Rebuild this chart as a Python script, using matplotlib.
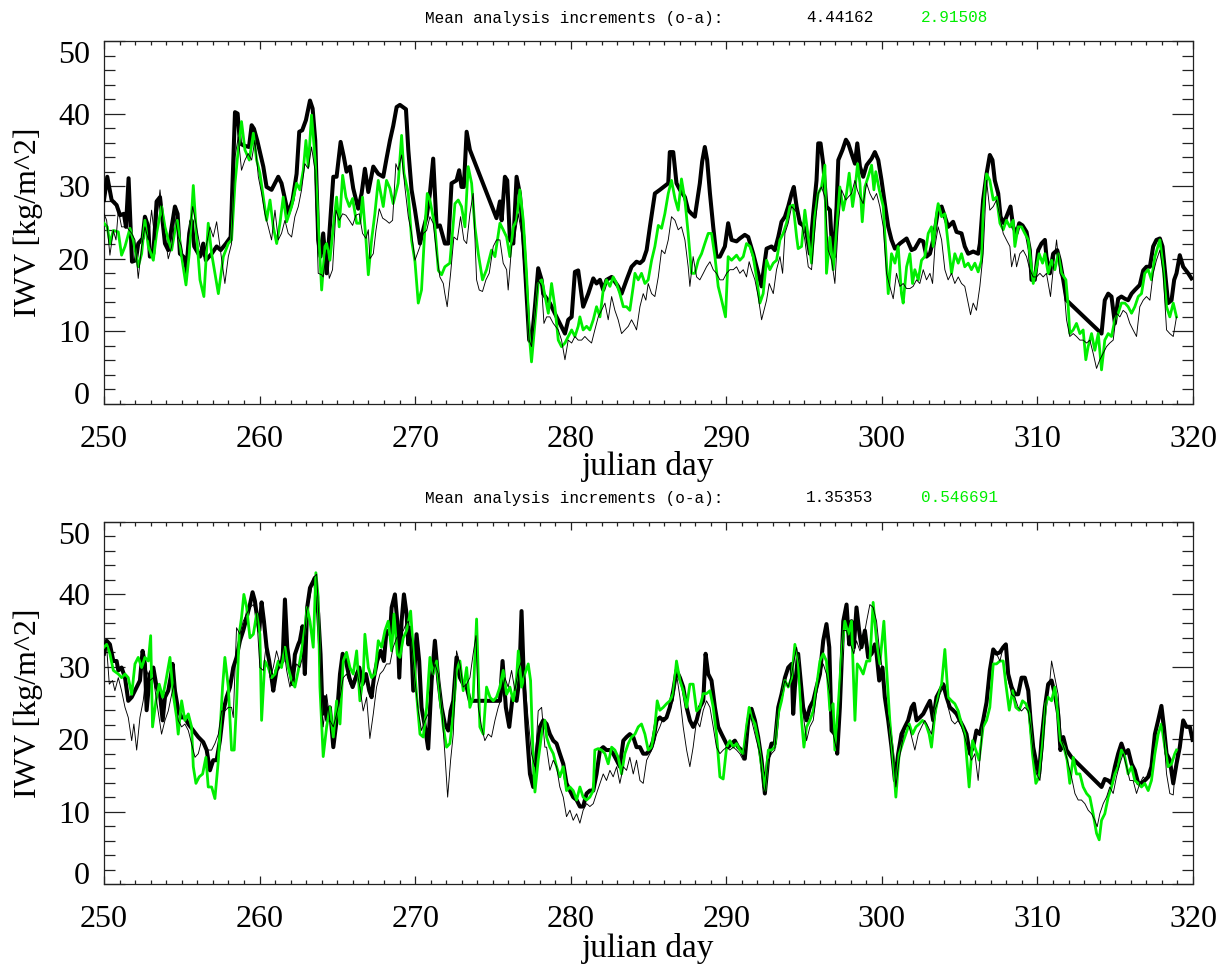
import numpy as np
import matplotlib
matplotlib.use('Agg')
import matplotlib.pyplot as plt
from matplotlib.ticker import MultipleLocator

plt.rcParams['font.family'] = ['Liberation Serif', 'DejaVu Serif']

# ── data: (julian day, IWV kg/m^2) ────────────────────────────────────
# upper panel
top_thick = [
    (250.0, 28.1), (250.21, 31.3), (250.49, 28.1), (250.81, 27.4), (251.03, 26.0), (251.28, 26.2),
    (251.41, 24.4), (251.58, 31.1), (251.8, 19.6), (252.05, 19.8), (252.2, 22.1), (252.48, 22.8),
    (252.63, 25.8), (252.85, 24.4), (252.95, 20.3), (253.17, 20.7), (253.38, 27.9), (253.6, 28.5),
    (253.92, 22.1), (254.13, 21.2), (254.35, 24.4), (254.56, 27.2), (254.73, 26.2), (254.88, 20.7),
    (255.1, 20.3), (255.27, 18.0), (255.48, 23.5), (255.63, 25.3), (255.8, 21.7), (256.17, 20.3),
    (256.38, 22.1), (256.55, 19.8), (256.92, 20.7), (257.24, 21.7), (257.5, 21.2), (257.84, 22.1),
    (258.14, 23.0), (258.42, 40.2), (258.59, 40.0), (258.74, 35.9), (258.99, 35.6), (259.32, 35.4),
    (259.49, 38.4), (259.64, 37.9), (259.85, 36.3), (260.24, 32.7), (260.45, 29.9), (260.77, 29.5),
    (261.2, 31.3), (261.41, 30.4), (261.84, 26.2), (262.12, 28.1), (262.38, 31.7), (262.55, 37.5),
    (262.74, 37.7), (262.98, 39.1), (263.24, 41.8), (263.41, 40.7), (263.58, 36.3), (263.77, 22.6),
    (263.92, 20.3), (264.09, 23.5), (264.2, 20.7), (264.31, 18.0), (264.74, 31.3), (264.95, 31.3),
    (265.21, 36.1), (265.42, 34.0), (265.59, 32.0), (265.81, 32.7), (266.02, 29.7), (266.34, 26.9),
    (266.56, 29.0), (266.77, 32.4), (266.99, 29.2), (267.31, 32.7), (267.63, 31.7), (267.95, 31.3),
    (268.16, 33.8), (268.38, 36.3), (268.59, 38.3), (268.81, 40.9), (269.02, 41.2), (269.41, 40.6),
    (269.56, 35.0), (269.77, 29.5), (269.99, 26.7), (270.31, 22.1), (270.52, 24.0), (270.74, 25.8),
    (270.95, 29.0), (271.16, 33.8), (271.38, 24.4), (271.59, 24.6), (271.91, 22.1), (272.13, 22.1),
    (272.34, 30.4), (272.66, 30.8), (272.83, 32.2), (272.98, 29.9), (273.13, 29.9), (273.31, 37.5),
    (273.52, 35.0), (275.23, 25.6), (275.45, 27.9), (275.56, 25.3), (275.77, 31.3), (275.92, 30.8),
    (276.09, 22.6), (276.31, 22.1), (276.52, 31.3), (276.73, 29.0), (276.95, 23.0), (277.16, 15.2),
    (277.33, 8.8), (277.48, 8.4), (277.7, 13.4), (277.91, 18.7), (278.13, 17.1), (278.23, 15.2),
    (278.66, 13.9), (279.09, 12.0), (279.63, 9.7), (279.84, 11.6), (280.06, 12.0), (280.27, 18.2),
    (280.48, 18.4), (280.8, 13.4), (281.13, 15.2), (281.45, 17.3), (281.66, 16.6), (281.88, 17.1),
    (282.09, 15.7), (282.3, 17.1), (282.63, 17.5), (283.05, 16.2), (283.27, 15.2), (283.59, 17.1),
    (283.91, 18.9), (284.23, 19.6), (284.45, 19.4), (284.66, 19.8), (284.88, 21.2), (285.09, 24.4),
    (285.41, 29.0), (285.73, 29.5), (286.27, 30.4), (286.37, 34.7), (286.59, 34.7), (286.8, 30.4),
    (287.02, 29.5), (287.34, 28.5), (287.55, 26.7), (287.77, 26.2), (287.98, 25.8), (288.3, 30.4),
    (288.45, 33.4), (288.62, 35.4), (288.77, 33.6), (288.95, 29.0), (289.16, 24.4), (289.37, 20.3),
    (289.59, 20.3), (289.91, 21.7), (290.12, 24.9), (290.34, 22.6), (290.66, 22.4), (290.87, 22.8),
    (291.19, 23.3), (291.41, 23.0), (291.73, 20.7), (292.05, 18.0), (292.27, 16.2), (292.37, 18.0),
    (292.59, 21.4), (292.91, 21.7), (293.12, 21.2), (293.34, 23.0), (293.55, 25.1), (293.77, 25.8),
    (293.98, 27.2), (294.2, 29.0), (294.34, 29.9), (294.52, 27.2), (294.73, 24.9), (294.94, 24.6),
    (295.16, 23.5), (295.37, 20.7), (295.59, 26.2), (295.8, 30.8), (295.91, 35.9), (296.06, 35.9),
    (296.23, 33.1), (296.44, 27.2), (296.66, 26.7), (296.77, 22.6), (296.92, 20.3), (297.09, 27.2),
    (297.2, 33.6), (297.47, 35.0), (297.69, 36.4), (297.84, 35.9), (298.05, 34.5), (298.27, 33.1),
    (298.42, 35.9), (298.59, 32.7), (298.8, 31.3), (299.02, 32.9), (299.34, 33.8), (299.55, 34.7),
    (299.77, 33.6), (299.98, 30.8), (300.19, 27.6), (300.41, 24.4), (300.62, 22.6), (300.84, 21.4),
    (301.16, 22.1), (301.59, 22.8), (301.91, 21.2), (302.12, 21.4), (302.44, 22.6), (302.66, 22.4),
    (302.87, 20.3), (303.09, 20.7), (303.3, 22.6), (303.62, 26.7), (303.84, 27.2), (304.05, 25.8),
    (304.26, 24.4), (304.58, 25.1), (304.8, 23.7), (305.12, 23.5), (305.33, 21.7), (305.55, 20.7),
    (305.87, 21.0), (306.19, 20.7), (306.3, 22.1), (306.51, 28.1), (306.73, 31.7), (306.94, 34.3),
    (307.11, 33.6), (307.26, 30.8), (307.48, 29.0), (307.63, 25.8), (307.84, 24.9), (308.01, 25.8),
    (308.27, 27.2), (308.44, 24.4), (308.66, 23.5), (308.83, 24.9), (309.04, 24.6), (309.3, 23.7),
    (309.51, 21.2), (309.62, 17.1), (309.83, 17.1), (310.05, 21.2), (310.26, 22.1), (310.48, 22.6),
    (310.58, 20.3), (310.8, 18.0), (311.01, 20.7), (311.27, 21.2), (311.44, 19.8), (311.66, 17.1),
    (311.87, 14.3), (314.12, 9.7), (314.33, 14.3), (314.55, 15.2), (314.76, 14.8), (314.98, 11.1),
    (315.19, 14.5), (315.4, 14.8), (315.62, 14.5), (315.83, 14.3), (316.05, 15.2), (316.26, 15.7),
    (316.58, 16.4), (316.8, 18.4), (317.01, 18.9), (317.23, 18.9), (317.44, 21.7), (317.65, 22.6),
    (317.87, 22.8), (318.04, 21.7), (318.25, 17.1), (318.4, 13.9), (318.62, 14.3), (318.79, 17.1),
    (318.94, 18.0), (319.15, 20.5), (319.37, 18.9), (319.69, 18.0), (319.9, 17.3),
]

top_thin = [
    (250.0, 26.2), (250.17, 25.3), (250.38, 20.5), (250.6, 23.9), (250.77, 22.6), (250.92, 26.7),
    (251.13, 24.4), (251.45, 24.4), (251.78, 23.5), (251.99, 22.6), (252.2, 17.3), (252.42, 21.7),
    (252.63, 24.4), (252.85, 22.6), (253.06, 26.7), (253.27, 22.6), (253.6, 29.5), (253.81, 24.9),
    (254.13, 20.0), (254.35, 21.7), (254.56, 25.8), (254.77, 23.0), (254.99, 21.7), (255.2, 18.9),
    (255.42, 22.6), (255.7, 27.2), (255.95, 24.4), (256.17, 21.7), (256.38, 20.3), (256.6, 22.1),
    (256.81, 24.4), (257.02, 23.0), (257.24, 25.1), (257.45, 21.7), (257.77, 16.6), (257.99, 20.3),
    (258.2, 22.1), (258.42, 34.0), (258.63, 36.8), (258.84, 32.2), (259.06, 33.6), (259.27, 34.5),
    (259.49, 33.6), (259.7, 36.3), (259.92, 31.3), (260.13, 29.0), (260.34, 26.2), (260.56, 24.4),
    (260.77, 22.6), (260.99, 26.7), (261.2, 22.6), (261.41, 23.5), (261.63, 25.3), (261.84, 23.5),
    (262.06, 23.0), (262.27, 25.8), (262.49, 27.2), (262.7, 29.5), (262.91, 33.1), (263.13, 32.4),
    (263.34, 35.4), (263.56, 32.2), (263.77, 18.0), (263.99, 17.8), (264.09, 17.5), (264.31, 21.2),
    (264.48, 17.3), (264.69, 18.5), (264.91, 26.7), (265.12, 25.3), (265.34, 26.2), (265.55, 26.0),
    (265.77, 25.3), (265.98, 24.6), (266.19, 26.0), (266.41, 26.2), (266.62, 23.5), (266.84, 22.8),
    (266.99, 24.0), (267.09, 20.0), (267.31, 20.7), (267.48, 23.9), (267.69, 26.9), (267.91, 25.6),
    (268.12, 25.3), (268.34, 24.9), (268.55, 25.3), (268.76, 33.1), (268.91, 32.2), (269.13, 34.3),
    (269.34, 29.9), (269.56, 25.8), (269.77, 23.5), (269.99, 19.8), (270.14, 20.7), (270.31, 21.7),
    (270.52, 23.5), (270.74, 23.9), (270.95, 25.8), (271.16, 24.9), (271.38, 20.7), (271.59, 17.5),
    (271.81, 16.6), (271.91, 15.2), (272.06, 13.4), (272.28, 18.0), (272.49, 23.0), (272.71, 22.6),
    (272.92, 25.8), (273.13, 22.6), (273.31, 22.1), (273.52, 26.2), (273.73, 29.0), (273.95, 17.1),
    (274.12, 15.7), (274.33, 15.5), (274.55, 17.1), (274.76, 18.0), (275.02, 21.7), (275.23, 22.6),
    (275.45, 22.6), (275.66, 19.4), (275.88, 18.5), (275.98, 15.7), (276.2, 21.7), (276.41, 23.0),
    (276.63, 26.2), (276.84, 23.5), (277.05, 17.1), (277.33, 8.8), (277.48, 7.9), (277.7, 12.0),
    (277.91, 17.1), (278.13, 16.2), (278.28, 11.1), (278.45, 12.0), (278.66, 12.0), (278.88, 11.1),
    (279.2, 10.2), (279.41, 8.8), (279.63, 6.1), (279.84, 8.8), (280.06, 8.4), (280.27, 9.3),
    (280.48, 8.8), (280.7, 8.8), (280.91, 9.3), (281.13, 8.8), (281.34, 8.4), (281.55, 10.2),
    (281.77, 12.0), (281.98, 12.9), (282.2, 13.9), (282.41, 11.6), (282.63, 14.8), (282.84, 12.9),
    (283.05, 11.6), (283.27, 9.7), (283.48, 10.2), (283.7, 10.7), (283.91, 11.6), (284.13, 10.7),
    (284.23, 10.2), (284.45, 13.4), (284.66, 15.2), (284.83, 14.3), (284.98, 16.6), (285.2, 15.2),
    (285.41, 14.8), (285.63, 17.5), (285.84, 21.2), (286.05, 20.7), (286.27, 22.6), (286.48, 25.8),
    (286.7, 25.3), (286.91, 24.0), (287.12, 24.4), (287.34, 22.6), (287.55, 18.9), (287.66, 16.2),
    (287.87, 20.3), (288.09, 17.5), (288.3, 17.1), (288.52, 18.0), (288.73, 18.9), (288.95, 19.6),
    (289.16, 18.5), (289.37, 18.0), (289.59, 17.1), (289.8, 17.1), (290.02, 18.0), (290.23, 18.5),
    (290.45, 18.5), (290.66, 18.9), (290.87, 18.0), (291.09, 18.5), (291.3, 17.5), (291.47, 19.6),
    (291.62, 18.5), (291.84, 17.1), (292.05, 14.8), (292.27, 11.6), (292.59, 14.3), (292.76, 16.6),
    (293.02, 15.2), (293.23, 18.5), (293.45, 20.3), (293.62, 18.0), (293.77, 23.5), (293.98, 24.9),
    (294.2, 27.2), (294.41, 26.7), (294.62, 26.2), (294.84, 24.9), (295.05, 22.6), (295.27, 18.9),
    (295.48, 18.5), (295.69, 23.9), (295.91, 29.0), (296.12, 29.9), (296.34, 28.5), (296.55, 21.2),
    (296.77, 19.8), (296.98, 16.6), (297.19, 24.4), (297.41, 29.5), (297.69, 28.1), (297.84, 28.5),
    (298.05, 29.0), (298.27, 30.8), (298.42, 29.5), (298.59, 28.5), (298.8, 27.6), (299.02, 30.4),
    (299.23, 29.0), (299.44, 28.1), (299.66, 29.0), (299.87, 27.2), (300.09, 24.4), (300.3, 18.0),
    (300.51, 16.2), (300.73, 14.5), (300.94, 18.0), (301.16, 16.2), (301.37, 16.6), (301.59, 15.9),
    (301.8, 15.9), (302.01, 16.2), (302.23, 17.1), (302.44, 16.6), (302.66, 18.5), (302.87, 17.1),
    (303.09, 18.0), (303.26, 16.6), (303.41, 21.7), (303.62, 24.4), (303.84, 22.6), (304.05, 18.5),
    (304.26, 17.1), (304.48, 18.0), (304.69, 16.6), (304.91, 17.5), (305.12, 16.6), (305.33, 16.2),
    (305.55, 13.9), (305.7, 12.3), (305.87, 13.9), (306.08, 12.9), (306.3, 16.2), (306.51, 20.7),
    (306.73, 30.8), (306.94, 26.7), (307.16, 27.2), (307.37, 28.1), (307.59, 25.8), (307.8, 23.5),
    (308.01, 22.6), (308.23, 21.7), (308.34, 18.9), (308.55, 20.7), (308.66, 18.9), (308.87, 20.7),
    (309.08, 21.2), (309.3, 20.3), (309.51, 18.5), (309.73, 17.5), (309.94, 17.5), (310.16, 18.0),
    (310.37, 17.5), (310.58, 18.0), (310.84, 14.8), (311.01, 18.5), (311.23, 22.6), (311.44, 18.0),
    (311.66, 17.1), (311.87, 11.6), (312.08, 9.3), (312.3, 9.7), (312.51, 9.3), (312.73, 8.8),
    (312.94, 8.8), (313.16, 8.4), (313.37, 8.8), (313.58, 7.0), (313.8, 4.9), (314.01, 6.1),
    (314.23, 7.0), (314.44, 7.9), (314.65, 8.4), (314.87, 8.8), (315.08, 12.5), (315.3, 12.0),
    (315.51, 12.9), (315.73, 12.5), (315.94, 11.1), (316.15, 10.2), (316.37, 9.3), (316.58, 13.4),
    (316.8, 14.3), (317.01, 14.8), (317.23, 14.3), (317.44, 18.0), (317.65, 19.8), (317.87, 21.2),
    (318.08, 18.0), (318.3, 10.2), (318.51, 9.7), (318.73, 9.3), (318.94, 12.0),
]

top_green = [
    (250.0, 24.9), (250.21, 24.4), (250.38, 22.1), (250.6, 23.9), (250.92, 23.7), (251.13, 20.5),
    (251.35, 21.7), (251.67, 24.2), (251.88, 22.6), (252.2, 18.9), (252.42, 20.7), (252.63, 25.3),
    (252.85, 21.7), (253.17, 19.8), (253.38, 23.5), (253.7, 27.2), (253.92, 24.4), (254.13, 22.6),
    (254.35, 21.2), (254.56, 23.9), (254.71, 25.3), (254.99, 20.3), (255.27, 16.4), (255.48, 20.7),
    (255.74, 30.1), (255.91, 24.4), (256.17, 17.1), (256.42, 14.8), (256.7, 24.9), (256.92, 20.7),
    (257.13, 18.0), (257.35, 15.2), (257.67, 20.3), (257.99, 22.1), (258.2, 22.6), (258.42, 30.4),
    (258.63, 35.0), (258.84, 38.9), (259.06, 35.0), (259.34, 33.6), (259.6, 37.3), (259.81, 33.6),
    (260.02, 31.8), (260.24, 28.5), (260.45, 25.3), (260.67, 28.1), (260.88, 24.4), (261.1, 22.1),
    (261.31, 24.9), (261.52, 28.5), (261.74, 25.1), (262.06, 27.2), (262.38, 30.4), (262.59, 29.5),
    (262.81, 32.2), (262.98, 36.3), (263.13, 32.7), (263.34, 39.8), (263.56, 34.0), (263.77, 24.9),
    (263.99, 15.7), (264.2, 21.7), (264.31, 22.1), (264.52, 19.8), (264.74, 24.4), (264.95, 28.5),
    (265.12, 24.4), (265.34, 31.5), (265.55, 28.5), (265.77, 27.2), (265.98, 28.3), (266.24, 24.9),
    (266.45, 24.9), (266.62, 28.5), (266.84, 22.6), (266.99, 17.8), (267.2, 22.6), (267.41, 26.2),
    (267.63, 30.8), (267.95, 27.2), (268.16, 30.8), (268.38, 29.7), (268.59, 27.6), (268.91, 30.4),
    (269.13, 37.0), (269.28, 31.8), (269.56, 29.0), (269.77, 22.6), (269.99, 19.6), (270.2, 13.9),
    (270.41, 15.7), (270.63, 24.4), (270.78, 29.0), (270.95, 28.1), (271.27, 24.4), (271.49, 18.4),
    (271.7, 17.8), (271.91, 18.9), (272.23, 19.4), (272.56, 27.6), (272.77, 28.1), (272.98, 27.2),
    (273.2, 24.4), (273.41, 32.7), (273.63, 30.4), (273.84, 24.4), (274.06, 20.7), (274.33, 17.1),
    (274.59, 18.5), (274.91, 21.2), (275.13, 20.3), (275.45, 24.9), (275.66, 24.0), (275.88, 23.0),
    (276.09, 20.3), (276.31, 24.4), (276.52, 25.3), (276.73, 29.5), (276.95, 25.3), (277.16, 18.0),
    (277.33, 9.7), (277.48, 5.8), (277.7, 11.1), (277.91, 16.6), (278.13, 17.1), (278.23, 16.2),
    (278.56, 12.5), (278.77, 16.6), (278.98, 13.4), (279.2, 8.8), (279.41, 7.9), (279.63, 8.4),
    (279.84, 9.3), (280.06, 10.2), (280.27, 9.3), (280.48, 10.7), (280.59, 12.0), (280.8, 10.2),
    (281.02, 10.7), (281.23, 10.2), (281.45, 11.6), (281.66, 13.4), (281.88, 12.0), (282.09, 15.7),
    (282.3, 17.1), (282.52, 16.2), (282.73, 17.5), (282.95, 16.6), (283.16, 15.2), (283.38, 13.4),
    (283.59, 13.4), (283.8, 12.9), (284.02, 16.2), (284.13, 18.0), (284.34, 17.1), (284.55, 18.0),
    (284.77, 16.6), (284.98, 17.1), (285.2, 19.8), (285.41, 21.7), (285.63, 24.6), (285.84, 24.2),
    (286.05, 26.2), (286.27, 29.0), (286.48, 30.8), (286.7, 28.3), (286.91, 26.7), (287.12, 31.0),
    (287.34, 28.1), (287.55, 23.5), (287.77, 18.0), (287.98, 18.0), (288.2, 19.8), (288.41, 20.7),
    (288.62, 22.1), (288.84, 23.5), (289.05, 23.5), (289.27, 20.3), (289.48, 16.2), (289.7, 14.3),
    (289.95, 12.0), (290.12, 20.3), (290.34, 19.8), (290.66, 20.5), (290.87, 19.8), (291.09, 20.3),
    (291.3, 22.1), (291.52, 21.7), (291.73, 20.3), (291.94, 17.5), (292.16, 13.9), (292.37, 15.2),
    (292.59, 19.8), (292.8, 18.5), (293.02, 19.4), (293.23, 19.8), (293.45, 22.6), (293.66, 23.5),
    (293.87, 24.9), (294.09, 27.2), (294.3, 27.4), (294.52, 23.0), (294.62, 21.4), (294.84, 21.7),
    (295.05, 26.7), (295.27, 23.0), (295.48, 19.4), (295.69, 25.8), (295.91, 29.0), (296.12, 29.9),
    (296.34, 32.9), (296.44, 18.0), (296.66, 23.0), (296.87, 18.5), (297.04, 22.6), (297.3, 29.9),
    (297.52, 26.7), (297.73, 29.0), (297.9, 31.8), (298.12, 27.2), (298.27, 29.5), (298.44, 33.1),
    (298.59, 30.4), (298.74, 25.1), (298.91, 29.9), (299.12, 31.3), (299.34, 32.9), (299.49, 29.5),
    (299.61, 32.0), (299.83, 29.5), (300.09, 27.2), (300.26, 20.7), (300.41, 15.2), (300.62, 20.7),
    (300.84, 19.4), (301.05, 21.7), (301.26, 15.2), (301.37, 13.9), (301.59, 18.9), (301.8, 20.7),
    (301.97, 16.6), (302.12, 18.5), (302.34, 17.1), (302.55, 19.8), (302.76, 20.3), (302.98, 23.5),
    (303.19, 24.4), (303.3, 21.7), (303.51, 26.2), (303.62, 27.6), (303.84, 25.8), (304.05, 26.2),
    (304.26, 22.1), (304.48, 18.0), (304.69, 20.7), (304.91, 19.4), (305.12, 20.7), (305.33, 18.9),
    (305.55, 19.4), (305.76, 18.5), (305.98, 19.4), (306.19, 18.2), (306.41, 19.8), (306.51, 26.2),
    (306.73, 31.7), (306.94, 30.8), (307.16, 28.1), (307.37, 28.5), (307.59, 24.9), (307.8, 24.0),
    (308.01, 25.3), (308.23, 24.4), (308.44, 25.3), (308.55, 21.7), (308.76, 24.4), (308.98, 24.4),
    (309.19, 23.5), (309.41, 22.6), (309.73, 16.6), (309.94, 18.9), (310.11, 20.7), (310.33, 19.4),
    (310.48, 20.7), (310.69, 18.0), (310.91, 19.8), (311.12, 18.5), (311.33, 20.7), (311.55, 18.0),
    (311.83, 17.1), (311.98, 13.4), (312.08, 9.7), (312.3, 10.2), (312.51, 11.1), (312.73, 9.7),
    (312.94, 10.2), (313.11, 6.1), (313.26, 7.9), (313.48, 9.7), (313.69, 7.4), (313.91, 9.7),
    (314.12, 4.7), (314.33, 8.8), (314.55, 9.7), (314.76, 9.3), (314.98, 11.6), (315.19, 12.5),
    (315.4, 13.9), (315.62, 13.9), (315.83, 13.4), (316.05, 12.5), (316.26, 13.4), (316.48, 14.8),
    (316.69, 15.2), (316.9, 18.0), (317.12, 18.5), (317.33, 17.1), (317.55, 20.3), (317.87, 22.6),
    (318.08, 18.9), (318.3, 13.4), (318.51, 12.0), (318.73, 13.9), (318.94, 12.0),
]

# lower panel
bot_thick = [
    (250.0, 31.8), (250.17, 33.6), (250.38, 33.1), (250.6, 30.8), (250.81, 30.8), (250.92, 29.5),
    (251.13, 29.9), (251.35, 28.5), (251.56, 25.3), (251.78, 25.8), (252.1, 27.2), (252.31, 28.1),
    (252.48, 32.2), (252.63, 30.4), (252.74, 24.0), (252.95, 29.0), (253.17, 29.9), (253.38, 27.2),
    (253.6, 26.2), (253.77, 22.6), (253.92, 25.8), (254.13, 26.7), (254.28, 28.5), (254.41, 30.4),
    (254.56, 26.7), (254.77, 24.0), (254.99, 23.0), (255.2, 23.0), (255.42, 22.1), (255.74, 21.2),
    (256.06, 20.3), (256.38, 19.6), (256.6, 18.5), (256.81, 15.7), (257.02, 17.1), (257.24, 17.1),
    (257.45, 19.8), (257.67, 23.9), (257.88, 25.8), (258.1, 27.2), (258.31, 29.9), (258.52, 31.3),
    (258.74, 33.6), (258.95, 35.0), (259.17, 36.8), (259.38, 38.6), (259.55, 40.3), (259.7, 39.1),
    (259.81, 37.3), (259.98, 35.0), (260.13, 38.9), (260.28, 36.3), (260.45, 32.7), (260.62, 30.8),
    (260.77, 28.5), (260.88, 26.7), (261.09, 29.5), (261.31, 30.4), (261.48, 30.8), (261.63, 39.3),
    (261.78, 32.7), (261.95, 29.9), (262.12, 27.6), (262.27, 31.7), (262.49, 33.1), (262.59, 33.6),
    (262.76, 35.6), (262.91, 29.0), (263.06, 38.2), (263.24, 40.9), (263.45, 41.8), (263.56, 42.3),
    (263.77, 37.3), (263.92, 31.7), (264.05, 23.5), (264.2, 25.8), (264.35, 22.6), (264.52, 24.4),
    (264.74, 18.9), (264.95, 22.6), (265.17, 29.0), (265.34, 31.8), (265.55, 30.8), (265.77, 28.5),
    (265.98, 27.2), (266.19, 28.5), (266.41, 29.9), (266.62, 27.6), (266.84, 29.0), (267.05, 26.7),
    (267.2, 25.8), (267.35, 28.5), (267.56, 30.8), (267.78, 32.2), (267.99, 30.8), (268.16, 35.0),
    (268.38, 34.5), (268.49, 38.2), (268.7, 40.0), (268.85, 36.3), (268.98, 28.5), (269.13, 36.3),
    (269.28, 40.0), (269.45, 37.3), (269.56, 33.1), (269.71, 35.4), (269.88, 26.7), (270.09, 34.5),
    (270.26, 30.8), (270.41, 24.4), (270.63, 21.7), (270.84, 18.7), (271.06, 28.1), (271.27, 33.6),
    (271.49, 28.1), (271.7, 24.4), (271.91, 22.1), (272.13, 21.2), (272.28, 23.9), (272.45, 25.3),
    (272.66, 31.3), (272.88, 28.5), (273.09, 27.6), (273.31, 27.2), (273.52, 25.3), (275.45, 25.3),
    (275.62, 30.8), (275.83, 24.4), (276.05, 21.7), (276.26, 25.8), (276.52, 25.3), (276.69, 28.1),
    (276.84, 37.7), (276.99, 28.1), (277.16, 21.7), (277.38, 15.2), (277.59, 13.4), (277.8, 18.0),
    (278.02, 21.7), (278.23, 22.6), (278.45, 22.1), (278.66, 20.7), (278.88, 19.8), (279.09, 19.4),
    (279.3, 18.0), (279.52, 16.6), (279.73, 13.9), (279.95, 12.9), (280.16, 12.0), (280.38, 11.6),
    (280.59, 10.7), (280.8, 10.7), (281.02, 12.5), (281.23, 12.9), (281.45, 12.9), (281.66, 15.2),
    (281.88, 18.5), (282.09, 18.9), (282.3, 18.5), (282.52, 18.5), (282.73, 18.0), (282.95, 17.1),
    (283.16, 16.2), (283.38, 19.8), (283.59, 20.3), (283.8, 20.7), (284.02, 20.3), (284.23, 18.9),
    (284.45, 18.9), (284.66, 18.0), (284.88, 18.0), (285.09, 18.5), (285.3, 19.8), (285.52, 22.6),
    (285.73, 23.0), (285.95, 22.6), (286.16, 23.0), (286.37, 24.4), (286.59, 26.7), (286.8, 29.5),
    (287.02, 28.5), (287.23, 27.2), (287.45, 24.4), (287.66, 22.6), (287.87, 21.7), (288.09, 22.6),
    (288.3, 24.4), (288.52, 25.3), (288.67, 31.8), (288.84, 29.0), (289.05, 28.1), (289.27, 24.4),
    (289.48, 21.7), (289.7, 20.7), (289.91, 19.8), (290.12, 18.9), (290.34, 19.4), (290.55, 19.8),
    (290.77, 18.9), (290.98, 18.5), (291.19, 17.3), (291.41, 22.6), (291.62, 24.2), (291.84, 22.6),
    (292.05, 20.3), (292.27, 17.1), (292.48, 12.5), (292.7, 17.5), (292.91, 19.4), (293.12, 19.4),
    (293.34, 24.4), (293.55, 26.2), (293.77, 28.5), (293.98, 29.9), (294.2, 30.4), (294.3, 23.5),
    (294.41, 27.2), (294.62, 31.8), (294.84, 26.7), (294.94, 24.4), (295.16, 22.6), (295.37, 24.4),
    (295.59, 25.3), (295.8, 27.2), (296.02, 29.0), (296.23, 33.6), (296.44, 35.9), (296.62, 32.7),
    (296.77, 21.2), (296.98, 20.7), (297.13, 18.0), (297.3, 24.4), (297.52, 36.3), (297.73, 38.6),
    (297.9, 33.1), (298.05, 36.3), (298.2, 32.7), (298.37, 38.2), (298.54, 35.0), (298.69, 32.7),
    (298.91, 35.0), (299.12, 31.3), (299.34, 31.8), (299.55, 33.1), (299.66, 31.8), (299.83, 28.1),
    (300.04, 29.9), (300.19, 25.8), (300.41, 22.6), (300.62, 18.9), (300.84, 14.3), (301.05, 18.0),
    (301.26, 20.7), (301.48, 21.7), (301.69, 22.6), (301.91, 24.4), (302.06, 24.9), (302.23, 22.6),
    (302.44, 23.0), (302.66, 23.5), (302.87, 24.4), (303.09, 25.3), (303.3, 22.6), (303.51, 25.8),
    (303.73, 26.7), (303.94, 27.6), (304.16, 25.8), (304.37, 24.4), (304.58, 24.0), (304.8, 23.5),
    (305.01, 22.6), (305.23, 21.7), (305.44, 20.7), (305.66, 18.0), (305.87, 18.9), (306.08, 21.2),
    (306.3, 20.7), (306.51, 22.6), (306.73, 25.1), (306.94, 29.5), (307.16, 32.4), (307.37, 31.8),
    (307.59, 32.0), (307.8, 32.7), (307.97, 33.1), (308.12, 29.0), (308.34, 27.2), (308.55, 26.2),
    (308.76, 26.2), (308.98, 28.5), (309.19, 28.5), (309.41, 26.7), (309.56, 22.6), (309.73, 18.9),
    (309.94, 16.6), (310.11, 15.2), (310.26, 19.8), (310.48, 24.4), (310.69, 27.6), (310.91, 28.1),
    (311.12, 26.2), (311.33, 23.5), (311.48, 18.5), (311.66, 20.3), (311.87, 18.5), (312.19, 17.5),
    (314.12, 13.4), (314.33, 14.5), (314.55, 14.3), (314.76, 13.9), (314.98, 16.2), (315.19, 18.0),
    (315.4, 19.4), (315.62, 18.0), (315.83, 18.5), (316.05, 16.6), (316.26, 15.7), (316.48, 13.9),
    (316.69, 13.9), (316.9, 14.3), (317.12, 14.8), (317.33, 16.2), (317.55, 20.7), (317.76, 22.6),
    (317.97, 24.6), (318.13, 21.7), (318.3, 18.0), (318.51, 17.1), (318.73, 13.9), (318.94, 16.6),
    (319.15, 18.9), (319.37, 22.6), (319.58, 21.7), (319.8, 21.7), (319.97, 19.9),
]

bot_thin = [
    (250.0, 32.2), (250.17, 32.7), (250.34, 27.6), (250.55, 28.1), (250.7, 26.7), (250.92, 28.5),
    (251.13, 26.7), (251.35, 24.4), (251.56, 23.0), (251.78, 19.8), (251.92, 22.1), (252.1, 18.5),
    (252.31, 23.0), (252.52, 25.3), (252.74, 29.5), (252.95, 28.1), (253.17, 28.5), (253.38, 25.3),
    (253.7, 20.7), (253.92, 22.6), (254.13, 23.9), (254.35, 26.2), (254.56, 28.1), (254.77, 22.6),
    (254.99, 21.7), (255.2, 22.1), (255.42, 21.2), (255.63, 19.4), (255.85, 17.5), (256.06, 18.0),
    (256.27, 19.8), (256.49, 18.9), (256.7, 18.5), (256.92, 18.5), (257.13, 19.4), (257.35, 20.7),
    (257.56, 23.9), (257.77, 23.9), (257.99, 24.4), (258.2, 24.4), (258.31, 23.0), (258.52, 35.4),
    (258.74, 34.5), (258.95, 36.3), (259.17, 37.3), (259.38, 38.2), (259.6, 38.6), (259.81, 37.3),
    (260.02, 29.9), (260.24, 29.5), (260.45, 33.6), (260.67, 28.5), (260.88, 29.9), (261.09, 32.2),
    (261.31, 30.4), (261.52, 33.1), (261.74, 29.5), (261.95, 27.2), (262.17, 28.5), (262.38, 30.4),
    (262.59, 29.9), (262.81, 31.7), (263.02, 37.7), (263.24, 39.6), (263.45, 42.3), (263.67, 42.8),
    (263.81, 36.8), (263.99, 24.4), (264.09, 21.7), (264.31, 26.2), (264.52, 22.6), (264.74, 21.7),
    (264.95, 23.5), (265.17, 25.8), (265.38, 28.5), (265.59, 29.0), (265.81, 27.6), (266.02, 28.1),
    (266.24, 29.5), (266.45, 27.2), (266.66, 23.9), (266.88, 25.8), (267.09, 20.1), (267.31, 23.5),
    (267.52, 27.2), (267.74, 29.0), (267.95, 29.5), (268.16, 30.4), (268.38, 30.4), (268.59, 32.7),
    (268.81, 34.0), (269.02, 34.5), (269.24, 35.0), (269.41, 35.9), (269.56, 36.3), (269.77, 33.6),
    (269.99, 28.1), (270.2, 23.9), (270.41, 21.2), (270.63, 22.6), (270.84, 23.5), (271.06, 28.1),
    (271.27, 30.4), (271.49, 29.0), (271.7, 24.4), (271.91, 18.0), (272.09, 12.0), (272.28, 17.1),
    (272.45, 20.7), (272.66, 32.2), (272.88, 30.4), (273.09, 27.2), (273.31, 27.6), (273.52, 28.5),
    (273.73, 31.8), (273.91, 34.3), (274.06, 24.4), (274.27, 21.7), (274.48, 19.8), (274.7, 20.7),
    (274.91, 20.3), (275.13, 22.6), (275.34, 24.4), (275.56, 25.8), (275.77, 28.5), (275.98, 27.2),
    (276.2, 29.5), (276.41, 26.7), (276.63, 29.5), (276.84, 30.8), (277.05, 28.1), (277.27, 22.6),
    (277.48, 18.0), (277.7, 16.2), (277.91, 23.9), (278.13, 24.4), (278.34, 18.9), (278.45, 18.9),
    (278.66, 15.7), (278.88, 17.1), (279.09, 16.2), (279.3, 13.4), (279.52, 12.0), (279.73, 9.3),
    (279.95, 10.2), (280.16, 8.8), (280.38, 9.7), (280.59, 8.4), (280.8, 10.2), (281.02, 11.1),
    (281.23, 10.7), (281.45, 11.1), (281.66, 12.5), (281.88, 13.9), (282.09, 15.2), (282.3, 14.3),
    (282.52, 15.7), (282.73, 14.8), (282.95, 16.2), (283.16, 13.9), (283.38, 16.2), (283.59, 15.7),
    (283.8, 17.5), (284.02, 15.2), (284.23, 17.1), (284.45, 14.3), (284.66, 13.9), (284.88, 17.1),
    (285.09, 18.0), (285.3, 18.9), (285.52, 20.7), (285.73, 21.7), (285.95, 23.0), (286.16, 23.0),
    (286.37, 24.4), (286.59, 25.3), (286.8, 29.0), (287.02, 25.8), (287.23, 21.7), (287.45, 18.5),
    (287.66, 16.2), (287.87, 18.9), (288.09, 22.6), (288.3, 21.7), (288.52, 24.0), (288.73, 25.3),
    (288.95, 24.4), (289.16, 21.7), (289.37, 18.9), (289.59, 18.0), (289.8, 18.5), (290.02, 18.9),
    (290.23, 18.5), (290.45, 18.9), (290.66, 18.5), (290.87, 18.0), (291.09, 17.1), (291.3, 20.7),
    (291.52, 23.5), (291.73, 21.7), (291.94, 19.8), (292.16, 18.0), (292.37, 13.4), (292.48, 12.5),
    (292.7, 17.1), (292.91, 18.0), (293.12, 18.5), (293.34, 24.9), (293.55, 26.2), (293.77, 28.1),
    (293.98, 27.2), (294.2, 29.0), (294.52, 32.7), (294.73, 29.9), (294.94, 23.5), (295.16, 19.8),
    (295.37, 21.7), (295.59, 22.6), (295.8, 26.2), (296.02, 29.0), (296.23, 30.4), (296.44, 29.0),
    (296.66, 26.2), (296.87, 20.7), (297.09, 18.5), (297.3, 24.4), (297.52, 35.0), (297.73, 35.0),
    (297.9, 33.6), (298.2, 31.8), (298.37, 33.6), (298.59, 32.2), (298.8, 33.6), (299.02, 36.3),
    (299.23, 38.6), (299.44, 38.2), (299.66, 36.3), (299.87, 31.8), (300.09, 29.0), (300.3, 24.4),
    (300.51, 21.7), (300.73, 18.0), (300.9, 13.4), (301.11, 17.1), (301.33, 19.8), (301.54, 22.1),
    (301.76, 21.7), (301.97, 19.8), (302.12, 18.5), (302.34, 20.7), (302.55, 21.7), (302.76, 22.6),
    (302.98, 21.7), (303.19, 20.7), (303.41, 24.0), (303.62, 25.3), (303.84, 27.2), (304.05, 27.6),
    (304.26, 24.4), (304.48, 22.6), (304.69, 22.1), (304.91, 22.6), (305.12, 21.7), (305.33, 20.3),
    (305.55, 18.5), (305.76, 17.1), (305.98, 18.0), (306.19, 14.3), (306.3, 17.1), (306.51, 22.6),
    (306.73, 24.4), (306.94, 29.5), (307.16, 31.8), (307.37, 31.8), (307.59, 30.8), (307.8, 32.7),
    (307.97, 33.1), (308.12, 28.1), (308.34, 26.2), (308.55, 25.8), (308.76, 24.4), (308.98, 23.9),
    (309.19, 24.4), (309.41, 23.9), (309.56, 21.7), (309.73, 18.0), (309.94, 15.2), (310.16, 14.3),
    (310.37, 18.9), (310.58, 26.2), (310.8, 28.1), (310.91, 30.8), (311.12, 28.5), (311.33, 26.2),
    (311.55, 19.8), (311.76, 18.5), (311.98, 16.6), (312.19, 14.8), (312.41, 12.5), (312.62, 11.6),
    (312.83, 11.6), (313.05, 11.1), (313.26, 10.2), (313.48, 9.7), (313.69, 8.8), (313.84, 7.9),
    (314.01, 9.7), (314.23, 11.1), (314.44, 12.0), (314.65, 13.4), (314.87, 12.5), (315.08, 14.8),
    (315.3, 16.6), (315.51, 18.0), (315.73, 16.2), (315.94, 14.3), (316.15, 14.3), (316.37, 12.5),
    (316.58, 13.9), (316.8, 14.8), (317.01, 14.3), (317.23, 14.8), (317.44, 18.5), (317.65, 21.7),
    (317.87, 23.5), (318.08, 21.7), (318.3, 15.2), (318.51, 12.5), (318.73, 12.3), (318.94, 18.0),
]

bot_green = [
    (250.0, 32.7), (250.17, 33.1), (250.38, 31.8), (250.6, 29.5), (250.92, 29.0), (251.13, 28.5),
    (251.35, 29.0), (251.56, 28.5), (251.78, 26.2), (251.99, 30.4), (252.2, 31.3), (252.42, 29.9),
    (252.63, 31.3), (252.85, 30.8), (253.0, 34.3), (253.12, 21.7), (253.34, 25.3), (253.55, 27.6),
    (253.77, 25.8), (253.98, 28.1), (254.24, 31.3), (254.45, 26.2), (254.67, 23.0), (254.77, 20.7),
    (254.99, 25.3), (255.2, 22.6), (255.42, 23.5), (255.63, 21.7), (255.74, 16.2), (255.91, 13.9),
    (256.12, 14.8), (256.34, 15.2), (256.55, 17.5), (256.7, 13.4), (256.92, 13.4), (257.13, 11.8),
    (257.35, 17.1), (257.5, 22.6), (257.62, 27.2), (257.77, 31.3), (257.99, 27.2), (258.2, 18.5),
    (258.37, 18.5), (258.52, 24.9), (258.69, 34.5), (258.84, 36.8), (258.99, 40.0), (259.17, 38.2),
    (259.38, 34.0), (259.6, 34.5), (259.81, 37.3), (260.02, 34.5), (260.13, 22.6), (260.34, 30.8),
    (260.56, 29.9), (260.77, 28.5), (260.99, 29.0), (261.2, 30.8), (261.41, 29.9), (261.63, 32.7),
    (261.84, 29.9), (262.06, 28.1), (262.27, 27.2), (262.49, 29.5), (262.7, 32.2), (262.91, 35.4),
    (263.06, 38.2), (263.24, 36.3), (263.45, 32.7), (263.62, 43.0), (263.77, 39.6), (263.88, 27.2),
    (264.09, 17.6), (264.31, 21.7), (264.52, 24.4), (264.74, 20.3), (264.95, 25.3), (265.17, 22.1),
    (265.38, 30.8), (265.59, 32.0), (265.81, 29.9), (266.02, 29.0), (266.24, 32.2), (266.45, 25.3),
    (266.66, 28.5), (266.77, 34.5), (266.99, 29.9), (267.2, 28.5), (267.41, 29.0), (267.63, 33.6),
    (267.84, 32.7), (268.06, 35.0), (268.27, 36.3), (268.49, 32.2), (268.64, 37.3), (268.85, 31.8),
    (269.02, 31.3), (269.24, 34.0), (269.45, 35.0), (269.71, 37.7), (269.88, 32.2), (270.09, 26.2),
    (270.31, 20.7), (270.52, 20.3), (270.74, 24.4), (270.95, 31.3), (271.16, 29.0), (271.38, 30.8),
    (271.59, 25.8), (271.81, 21.7), (272.02, 18.9), (272.23, 19.4), (272.45, 23.5), (272.66, 29.5),
    (272.88, 30.8), (273.09, 26.7), (273.31, 29.9), (273.52, 24.4), (273.73, 25.8), (273.95, 36.6),
    (274.16, 21.7), (274.38, 20.7), (274.59, 27.2), (274.81, 25.8), (275.02, 25.3), (275.23, 25.8),
    (275.45, 27.2), (275.66, 29.5), (275.88, 26.2), (276.09, 27.2), (276.31, 25.3), (276.52, 28.5),
    (276.63, 32.2), (276.84, 27.2), (277.05, 29.0), (277.27, 30.4), (277.42, 28.1), (277.59, 17.1),
    (277.7, 12.7), (277.91, 17.1), (278.13, 20.7), (278.34, 22.6), (278.45, 20.3), (278.66, 18.9),
    (278.88, 18.0), (279.09, 16.2), (279.3, 14.8), (279.52, 16.2), (279.73, 12.9), (279.95, 13.4),
    (280.16, 12.9), (280.38, 11.6), (280.59, 13.4), (280.8, 12.0), (281.02, 11.6), (281.23, 12.0),
    (281.45, 12.9), (281.55, 18.5), (281.77, 18.7), (281.98, 18.5), (282.2, 18.0), (282.41, 16.6),
    (282.63, 18.9), (282.84, 18.5), (283.05, 17.5), (283.27, 15.2), (283.48, 18.0), (283.7, 19.4),
    (283.91, 20.3), (284.13, 20.7), (284.34, 21.7), (284.55, 22.1), (284.77, 20.7), (284.98, 18.5),
    (285.2, 18.9), (285.41, 21.7), (285.56, 25.3), (285.73, 24.0), (285.95, 24.4), (286.16, 24.9),
    (286.37, 25.3), (286.59, 26.3), (286.8, 30.8), (287.02, 28.1), (287.23, 26.7), (287.45, 24.4),
    (287.66, 27.6), (287.87, 27.6), (288.09, 23.9), (288.3, 24.4), (288.52, 26.3), (288.73, 26.3),
    (288.95, 26.7), (289.16, 24.4), (289.37, 20.7), (289.59, 14.8), (289.8, 14.5), (290.02, 18.9),
    (290.23, 19.8), (290.45, 18.9), (290.66, 19.4), (290.87, 18.5), (291.09, 18.0), (291.3, 21.7),
    (291.47, 24.4), (291.62, 23.0), (291.84, 22.1), (292.05, 19.8), (292.27, 16.2), (292.48, 12.9),
    (292.7, 18.5), (292.91, 18.5), (293.12, 18.9), (293.34, 23.5), (293.55, 25.3), (293.77, 28.1),
    (293.98, 27.2), (294.2, 28.5), (294.41, 33.1), (294.62, 30.8), (294.84, 22.6), (294.99, 18.9),
    (295.16, 21.7), (295.37, 22.6), (295.59, 23.9), (295.8, 27.2), (296.02, 30.8), (296.23, 31.8),
    (296.44, 30.8), (296.66, 24.0), (296.87, 24.9), (296.98, 18.5), (297.19, 24.4), (297.41, 31.8),
    (297.62, 36.3), (297.84, 34.5), (298.05, 36.3), (298.27, 22.6), (298.42, 30.4), (298.59, 29.9),
    (298.8, 29.0), (299.02, 30.8), (299.23, 30.8), (299.44, 38.9), (299.66, 33.6), (299.87, 30.4),
    (300.13, 36.3), (300.3, 29.9), (300.51, 22.6), (300.73, 17.1), (300.9, 12.0), (301.11, 17.9),
    (301.33, 19.4), (301.54, 20.7), (301.76, 22.1), (301.97, 20.7), (302.19, 21.7), (302.4, 22.1),
    (302.61, 22.6), (302.83, 22.1), (303.04, 20.7), (303.19, 18.9), (303.41, 23.5), (303.62, 25.8),
    (303.84, 27.6), (304.05, 32.4), (304.26, 25.8), (304.48, 25.3), (304.69, 24.9), (304.91, 23.9),
    (305.12, 22.1), (305.33, 20.7), (305.61, 13.4), (305.83, 19.8), (306.04, 18.5), (306.25, 17.1),
    (306.51, 21.7), (306.73, 22.6), (306.94, 24.4), (307.16, 30.4), (307.37, 30.4), (307.59, 30.8),
    (307.8, 30.8), (307.97, 27.6), (308.19, 24.0), (308.4, 26.7), (308.61, 24.4), (308.83, 24.0),
    (309.04, 25.3), (309.26, 24.9), (309.47, 23.5), (309.68, 18.0), (309.9, 13.9), (310.11, 14.8),
    (310.33, 19.4), (310.54, 24.9), (310.69, 25.8), (310.91, 25.3), (311.12, 27.2), (311.27, 24.4),
    (311.48, 19.8), (311.7, 18.9), (311.91, 17.1), (312.08, 13.9), (312.3, 17.5), (312.51, 15.2),
    (312.73, 15.2), (312.94, 13.4), (313.16, 12.5), (313.37, 12.0), (313.58, 9.7), (313.8, 7.0),
    (313.97, 6.1), (314.12, 8.8), (314.33, 9.7), (314.55, 12.0), (314.76, 13.4), (314.98, 15.2),
    (315.19, 16.2), (315.4, 18.5), (315.62, 17.5), (315.83, 15.2), (316.05, 16.2), (316.26, 14.3),
    (316.48, 13.9), (316.69, 13.4), (316.9, 13.9), (317.12, 12.9), (317.33, 14.3), (317.55, 18.0),
    (317.76, 20.7), (317.97, 22.1), (318.19, 18.9), (318.4, 16.2), (318.62, 16.6), (318.83, 18.0),
    (318.94, 18.5),
]

mean_incr_black = ['4.44162', '1.35353']
mean_incr_green = ['2.91508', '0.546691']

x_ticks = list(range(250, 321, 10))
y_ticks = list(range(0, 51, 10))

GREEN = '#00ee00'

W, H = 1231, 967
fig = plt.figure(figsize=(W / 100, H / 100), dpi=100)
ax_top = fig.add_axes([104 / W, 1 - 404 / H, 1089 / W, 363 / H])
ax_bot = fig.add_axes([104 / W, 1 - 884 / H, 1089 / W, 362 / H])

panels = [
    (ax_top, top_thick, top_thin, top_green, 18, 404, 363, 451),
    (ax_bot, bot_thick, bot_thin, bot_green, 498, 884, 362, 933),
]

for i, (ax, thick, thin, green, title_y, ax_bottom, ax_h, xlab_top) in enumerate(panels):
    d, v = np.array(thick).T
    ax.plot(d, v, color='black', lw=2.9, zorder=3)
    d, v = np.array(green).T
    ax.plot(d, v, color=GREEN, lw=2.0, zorder=4)
    d, v = np.array(thin).T
    ax.plot(d, v, color='black', lw=0.65, zorder=5)

    ax.set_xlim(250, 320)
    ax.set_ylim(0, 50)
    ax.set_xticks(x_ticks)
    ax.set_yticks(y_ticks)
    ax.xaxis.set_minor_locator(MultipleLocator(1))
    ax.yaxis.set_minor_locator(MultipleLocator(2))
    ax.tick_params(axis='x', which='major', direction='in', length=5.5, width=0.9,
                   top=True, pad=15, labelsize=23, colors='#222222', labelcolor='black')
    ax.tick_params(axis='x', which='minor', direction='in', length=3, width=0.9,
                   top=True, colors='#222222')
    ax.tick_params(axis='y', which='major', direction='in', length=15, width=0.9,
                   right=True, pad=10, labelsize=23, colors='#222222', labelcolor='black')
    ax.tick_params(axis='y', which='minor', direction='in', length=8, width=0.9,
                   right=True, colors='#222222')
    for s in ax.spines.values():
        s.set_linewidth(0.9)
        s.set_color('#222222')

    # IDL keeps the end labels inside the axis span
    ylabs = ax.get_yticklabels()
    ylabs[0].set_va('baseline')
    ylabs[-1].set_va('top')

    ax.set_xlabel('julian day', fontsize=24)
    ax.xaxis.set_label_coords(0.5, -(xlab_top - ax_bottom) / ax_h)
    ax.set_ylabel('IWV [kg/m^2]', fontsize=23)
    ax.yaxis.set_label_coords(-(104 - 43) / 1089, 0.5)

    ty = 1 - title_y / H
    fig.text(425 / W, ty, 'Mean analysis increments (o-a):', family='Liberation Mono',
             fontsize=11.5, va='center', ha='left')
    fig.text(806 / W, ty, mean_incr_black[i], family='Liberation Mono',
             fontsize=11.5, va='center', ha='left', color='black')
    fig.text(921 / W, ty, mean_incr_green[i], family='Liberation Mono',
             fontsize=11.5, va='center', ha='left', color=GREEN)

fig.savefig('out.png', dpi=100)
